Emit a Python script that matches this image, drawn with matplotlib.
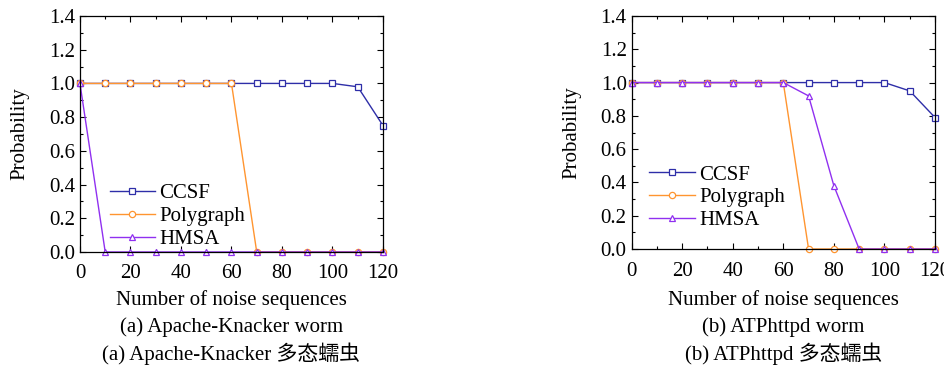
import matplotlib
matplotlib.use('Agg')
import matplotlib.pyplot as plt
from matplotlib.ticker import MultipleLocator

plt.rcParams['font.family'] = ['Liberation Serif', 'Noto Sans CJK SC']

# noise sequences on the x axis
noise = [0, 10, 20, 30, 40, 50, 60, 70, 80, 90, 100, 110, 120]

# (a) Apache-Knacker worm
a_ccsf = [1.0, 1.0, 1.0, 1.0, 1.0, 1.0, 1.0, 1.0, 1.0, 1.0, 1.0, 0.98, 0.75]
a_poly = [1.0, 1.0, 1.0, 1.0, 1.0, 1.0, 1.0, 0.0, 0.0, 0.0, 0.0, 0.0, 0.0]
a_hmsa = [1.0, 0.0, 0.0, 0.0, 0.0, 0.0, 0.0, 0.0, 0.0, 0.0, 0.0, 0.0, 0.0]

# (b) ATPhttpd worm
b_ccsf = [1.0, 1.0, 1.0, 1.0, 1.0, 1.0, 1.0, 1.0, 1.0, 1.0, 1.0, 0.95, 0.79]
b_poly = [1.0, 1.0, 1.0, 1.0, 1.0, 1.0, 1.0, 0.0, 0.0, 0.0, 0.0, 0.0, 0.0]
b_hmsa = [1.0, 1.0, 1.0, 1.0, 1.0, 1.0, 1.0, 0.92, 0.38, 0.0, 0.0, 0.0, 0.0]

series_names = ['CCSF', 'Polygraph', 'HMSA']
colors = ['#2e2ea8', '#ff9530', '#9030f0']
markers = ['s', 'o', '^']

captions = [
    ('(a) Apache-Knacker worm', '(a) Apache-Knacker 多态蠕虫'),
    ('(b) ATPhttpd worm', '(b) ATPhttpd 多态蠕虫'),
]

fig = plt.figure(figsize=(9.44, 3.67), dpi=100)
ax_a = fig.add_axes([0.0847, 0.3134, 0.3210, 0.6430])
ax_b = fig.add_axes([0.6690, 0.3215, 0.3215, 0.6349])

panels = [
    (ax_a, [a_ccsf, a_poly, a_hmsa], (0.07, -0.022)),
    (ax_b, [b_ccsf, b_poly, b_hmsa], (0.03, 0.045)),
]

for ax, data, leg_pos in panels:
    for vals, name, c, m in zip(data, series_names, colors, markers):
        ax.plot(noise, vals, color=c, lw=1.0, marker=m, markersize=4.5,
                markerfacecolor='white', markeredgecolor=c, markeredgewidth=0.9,
                label=name, clip_on=False)
    ax.set_xlim(0, 120)
    ax.set_ylim(0, 1.4)
    ax.xaxis.set_major_locator(MultipleLocator(20))
    ax.xaxis.set_minor_locator(MultipleLocator(10))
    ax.yaxis.set_major_locator(MultipleLocator(0.2))
    ax.yaxis.set_minor_locator(MultipleLocator(0.1))
    ax.yaxis.set_major_formatter(plt.FuncFormatter(lambda v, p: f'{v:.1f}'))
    ax.tick_params(which='both', direction='in', top=True, right=True,
                   labelsize=15, width=0.8)
    ax.tick_params(which='major', length=4)
    ax.tick_params(which='minor', length=2)
    ax.tick_params(axis='x', pad=9)
    for sp in ax.spines.values():
        sp.set_linewidth(0.9)
    ax.set_ylabel('Probability', fontsize=15, labelpad=14)
    ax.legend(loc='lower left', bbox_to_anchor=leg_pos, frameon=False,
              fontsize=15, handlelength=2.2, handletextpad=0.2,
              labelspacing=0.15, borderaxespad=0.0)

for ax, (cap1, cap2) in zip([ax_a, ax_b], captions):
    pos = ax.get_position()
    cx = (pos.x0 + pos.x1) / 2
    fig.text(cx, 1 - 300 / 367, 'Number of noise sequences', ha='center', va='center', fontsize=15)
    fig.text(cx, 1 - 327 / 367, cap1, ha='center', va='center', fontsize=15)
    fig.text(cx, 1 - 354 / 367, cap2, ha='center', va='center', fontsize=15)

fig.savefig('out.png', dpi=100)
